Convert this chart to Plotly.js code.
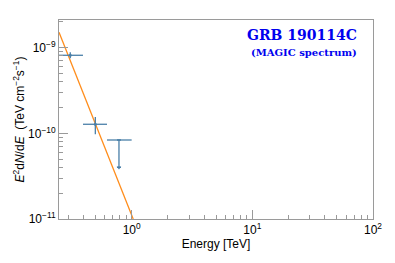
<!DOCTYPE html>
<html>
<head>
<meta charset="utf-8">
<script src="https://cdn.plot.ly/plotly-3.0.1.min.js"></script>
<style>html,body{margin:0;padding:0;background:#fff;}#chart{width:395px;height:263px;}</style>
</head>
<body>
<div id="chart"></div>
<script>
// Measured spectral points (TeV, TeV cm^-2 s^-1)
const pointE    = [0.31, 0.50];
const pointElo  = [0.25, 0.395];
const pointEhi  = [0.395, 0.625];
const pointF    = [8.15e-10, 1.276e-10];
const pointFlo  = [7.52e-10, 0.975e-10];
const pointFhi  = [8.83e-10, 1.55e-10];

// Upper limit
const ulE       = [0.785];
const ulElo     = [0.625];
const ulEhi     = [1.0];
const ulF       = [8.36e-11];
const ulArrowTo = [4.0e-11];

// Power-law fit line (end points)
const fitE = [0.25, 1.03];
const fitF = [1.51e-9, 1.0e-11];

// Tick labels
const xMajorVals = [1, 10, 100];
const xMajorText = ['10<sup>0</sup>', '10<sup>1</sup>', '10<sup>2</sup>'];
const yMajorVals = [1e-11, 1e-10, 1e-9];
const yMajorText = ['10<sup>\u221211</sup>', '10<sup>\u221210</sup>', '10<sup>\u22129</sup>'];

const ptColor = '#4a7fa8';
const fitColor = '#ff8c1a';
const axColor = '#9a9a9a';

const xMinor = [];
[0.1, 1, 10].forEach(d => { for (let k = 2; k <= 9; k++) xMinor.push(k * d); });
const yMinor = [];
[1e-11, 1e-10, 1e-9].forEach(d => { for (let k = 2; k <= 9; k++) yMinor.push(k * d); });

const traces = [
  {
    x: fitE, y: fitF, mode: 'lines', type: 'scatter',
    line: {color: fitColor, width: 1.3}, hoverinfo: 'skip', showlegend: false
  },
  {
    x: pointE, y: pointF, mode: 'markers', type: 'scatter', showlegend: false,
    marker: {color: ptColor, size: 3},
    error_x: {type: 'data', symmetric: false,
      array: pointE.map((e, i) => pointEhi[i] - e),
      arrayminus: pointE.map((e, i) => e - pointElo[i]),
      color: ptColor, thickness: 1.3, width: 0},
    error_y: {type: 'data', symmetric: false,
      array: pointF.map((f, i) => pointFhi[i] - f),
      arrayminus: pointF.map((f, i) => f - pointFlo[i]),
      color: ptColor, thickness: 1.3, width: 0}
  },
  {
    x: ulE, y: ulF, mode: 'markers', type: 'scatter', showlegend: false,
    marker: {color: ptColor, size: 1},
    error_x: {type: 'data', symmetric: false,
      array: ulE.map((e, i) => ulEhi[i] - e),
      arrayminus: ulE.map((e, i) => e - ulElo[i]),
      color: ptColor, thickness: 1.3, width: 0},
    error_y: {type: 'data', symmetric: false,
      array: ulF.map(() => 0),
      arrayminus: ulF.map((f, i) => f - ulArrowTo[i]),
      color: ptColor, thickness: 1.3, width: 2}
  },
  {
    x: ulE, y: ulArrowTo, mode: 'markers', type: 'scatter', showlegend: false,
    marker: {color: ptColor, size: 4, symbol: 'triangle-down'}
  }
];

const tickFont = {family: 'Liberation Sans, Arial, sans-serif', size: 12, color: '#000'};

const layout = {
  width: 395, height: 263,
  margin: {l: 59, r: 22, t: 20, b: 44},
  paper_bgcolor: '#fff', plot_bgcolor: '#fff',
  showlegend: false,
  xaxis: {
    type: 'log', range: [Math.log10(0.25), 2],
    tickmode: 'array', tickvals: xMajorVals, ticktext: xMajorText,
    ticks: 'inside', ticklen: 9, tickwidth: 1, tickcolor: axColor,
    minor: {tickmode: 'array', tickvals: xMinor, ticks: 'inside', ticklen: 4, tickwidth: 1, tickcolor: axColor, showgrid: false},
    showgrid: false, zeroline: false,
    showline: true, mirror: true, linecolor: axColor, linewidth: 1,
    tickfont: tickFont,
    title: {text: 'Energy [TeV]', font: {family: 'Liberation Sans, Arial, sans-serif', size: 12, color: '#000'}, standoff: 3}
  },
  yaxis: {
    type: 'log', range: [-11, -8.677],
    tickmode: 'array', tickvals: yMajorVals, ticktext: yMajorText,
    ticks: 'inside', ticklen: 9, tickwidth: 1, tickcolor: axColor,
    minor: {tickmode: 'array', tickvals: yMinor, ticks: 'inside', ticklen: 4, tickwidth: 1, tickcolor: axColor, showgrid: false},
    showgrid: false, zeroline: false,
    showline: true, mirror: true, linecolor: axColor, linewidth: 1,
    tickfont: tickFont,
    title: {text: '<i>E</i><sup>2</sup>d<i>N</i>/d<i>E</i>  (TeV cm<sup>\u22122</sup>s<sup>\u22121</sup>)',
      font: {family: 'Liberation Sans, Arial, sans-serif', size: 12, color: '#000'}, standoff: 0}
  },
  annotations: [
    {text: '<b>GRB 190114C</b>', xref: 'paper', yref: 'paper', x: 0.955, y: 0.925,
      xanchor: 'right', yanchor: 'middle', showarrow: false,
      font: {family: 'DejaVu Serif, serif', size: 14, color: '#0000ee'}},
    {text: '<b>(MAGIC spectrum)</b>', xref: 'paper', yref: 'paper', x: 0.955, y: 0.839,
      xanchor: 'right', yanchor: 'middle', showarrow: false,
      font: {family: 'DejaVu Serif, serif', size: 10, color: '#0000ee'}}
  ]
};

Plotly.newPlot('chart', traces, layout, {displayModeBar: false, staticPlot: true});
</script>
</body>
</html>
